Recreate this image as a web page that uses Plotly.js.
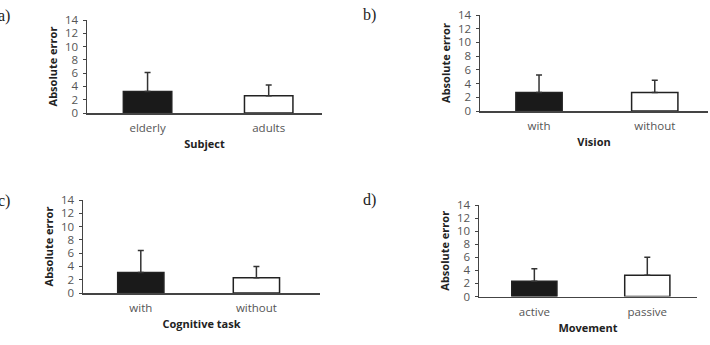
<!DOCTYPE html>
<html><head><meta charset="utf-8">
<script src="https://cdn.plot.ly/plotly-3.0.1.min.js"></script>
<style>html,body{margin:0;padding:0;background:#fff}#chart{width:710px;height:345px}</style>
</head><body><div id="chart"></div>
<script>
// Panel a: Subject
const catsA = ['elderly', 'adults'];
const meanA = [3.25, 2.6];
const errA  = [2.85, 1.6];
// Panel b: Vision
const catsB = ['with', 'without'];
const meanB = [2.7, 2.7];
const errB  = [2.55, 1.8];
// Panel c: Cognitive task
const catsC = ['with', 'without'];
const meanC = [3.1, 2.3];
const errC  = [3.3, 1.7];
// Panel d: Movement
const catsD = ['active', 'passive'];
const meanD = [2.35, 3.25];
const errD  = [1.9, 2.75];

const yTicks = [0, 2, 4, 6, 8, 10, 12, 14];
const panelLabels = ['a)', 'b)', 'c)', 'd)'];
const xTitles = ['Subject', 'Vision', 'Cognitive task', 'Movement'];

const W = 710, H = 345;
const panels = [
  {cats: catsA, mean: meanA, err: errA, x0: 87,  x1: 322, y0: 113, y1: 20,  xr: [-0.5, 1.44], lx: -4,  ly: 16},
  {cats: catsB, mean: meanB, err: errB, x0: 480, x1: 708, y0: 111, y1: 15,  xr: [-0.51, 1.46], lx: 361, ly: 15},
  {cats: catsC, mean: meanC, err: errC, x0: 83,  x1: 320, y0: 293, y1: 200, xr: [-0.5, 1.55], lx: -4,  ly: 201},
  {cats: catsD, mean: meanD, err: errD, x0: 479, x1: 697, y0: 296.5, y1: 205, xr: [-0.49, 1.44], lx: 361, ly: 200}
];

const tickFont = {family: 'Open Sans, sans-serif', size: 11.5, color: '#555'};
const titleFont = {family: 'Open Sans, sans-serif', size: 11, color: '#222', weight: 'bold'};
const lineCol = '#444';

const data = [];
const layout = {
  width: W, height: H,
  margin: {l: 0, r: 0, t: 0, b: 0},
  paper_bgcolor: '#fff', plot_bgcolor: '#fff',
  showlegend: false,
  annotations: []
};

panels.forEach((p, i) => {
  const n = i === 0 ? '' : String(i + 1);
  data.push({
    type: 'bar',
    x: p.cats,
    y: p.mean,
    xaxis: 'x' + n, yaxis: 'y' + n,
    width: 0.4,
    marker: {color: ['#1a1a1a', '#ffffff'], line: {color: '#222', width: 1.5}},
    error_y: {type: 'data', symmetric: false, array: p.err, arrayminus: p.err.map(() => 0),
              color: '#333', thickness: 1.5, width: 3},
    hoverinfo: 'none'
  });
  layout['xaxis' + n] = {
    domain: [p.x0 / W, p.x1 / W],
    anchor: 'y' + n,
    range: p.xr,
    showline: true, linecolor: lineCol, linewidth: 1.5,
    showgrid: false, zeroline: false, ticks: '',
    ticklabelstandoff: 4,
    tickfont: tickFont,
    title: {text: xTitles[i], font: titleFont, standoff: 6},
    fixedrange: true
  };
  layout['yaxis' + n] = {
    domain: [1 - p.y0 / H, 1 - p.y1 / H],
    anchor: 'x' + n,
    range: [0, 14],
    tickvals: yTicks,
    showline: true, linecolor: lineCol, linewidth: 1.5,
    showgrid: false, zeroline: false,
    ticks: 'outside', ticklen: 3, tickcolor: lineCol, tickwidth: 1,
    ticklabelstandoff: 2,
    tickfont: tickFont,
    title: {text: 'Absolute error', font: titleFont, standoff: 5},
    fixedrange: true
  };
  layout.annotations.push({
    text: panelLabels[i], xref: 'paper', yref: 'paper',
    x: p.lx / W, y: 1 - p.ly / H, xanchor: 'left', yanchor: 'middle',
    showarrow: false,
    font: {family: 'Liberation Serif, serif', size: 16, color: '#222'}
  });
});

Plotly.newPlot('chart', data, layout, {displayModeBar: false, staticPlot: true});
</script>
</body></html>
